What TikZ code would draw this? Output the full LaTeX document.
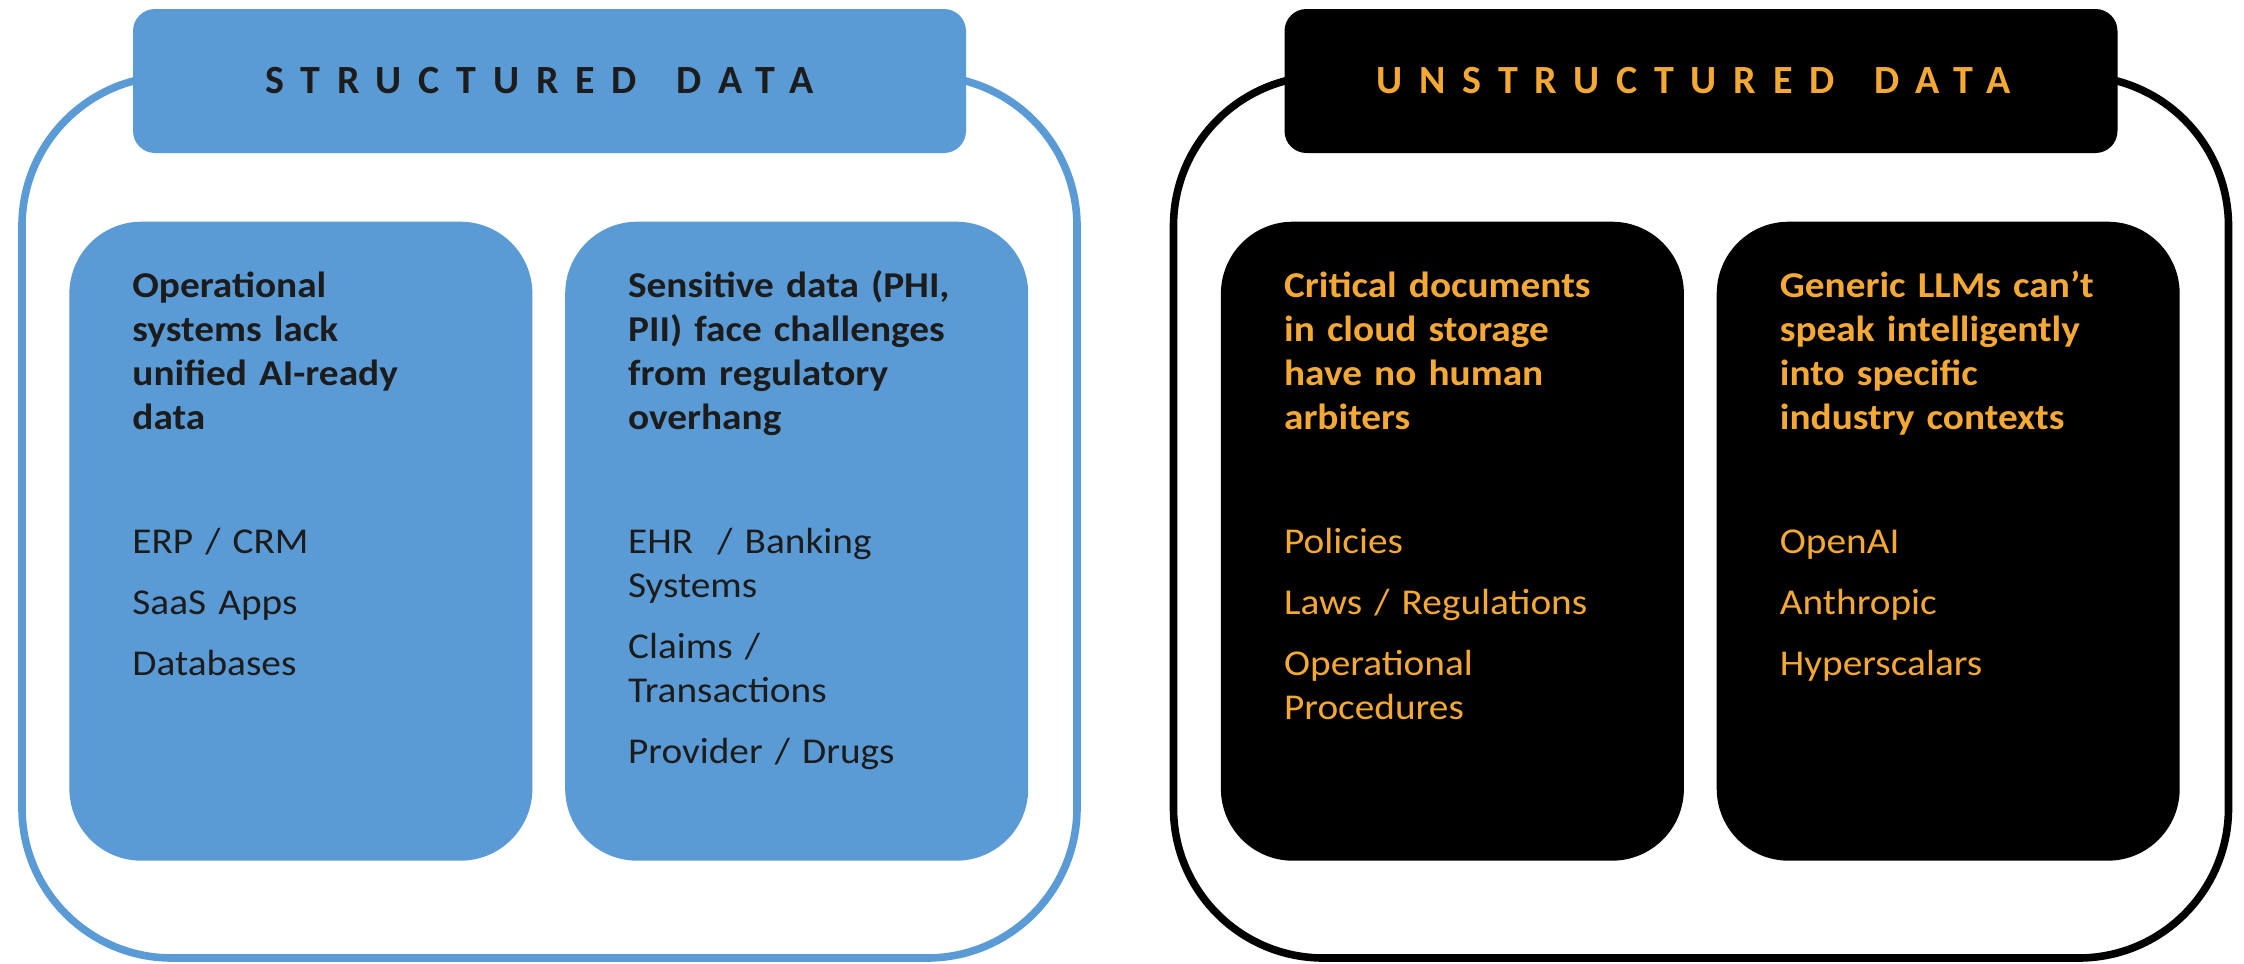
\documentclass[tikz,border=0pt]{standalone}
\usepackage{fontspec}
\setmainfont{Carlito}[FakeStretch=1.08]
\newfontfamily\hdfont{Carlito}[LetterSpace=42]
\definecolor{mblue}{HTML}{5B9BD5}
\definecolor{morange}{HTML}{F5A935}
\definecolor{mdark}{HTML}{1C1C1C}
\newcommand{\wgap}{\ \hspace{7pt}}
\begin{document}
\begin{tikzpicture}[x=0.5pt,y=-0.5pt,
  outerbox/.style={line width=3.8pt, fill=white, rounded corners=75pt, inner sep=0, minimum width=527.5pt, minimum height=441pt},
  hdrbox/.style={rounded corners=11pt, inner sep=0, minimum width=416.5pt, minimum height=72pt},
  cardbox/.style={rounded corners=36pt, inner sep=0, minimum width=231.5pt, minimum height=319.5pt},
  hdrtext/.style={anchor=base, inner sep=0, font=\hdfont\bfseries\fontsize{20pt}{22pt}\selectfont},
  ttl/.style={anchor=base west, inner sep=0, text width=220pt, align=left, font=\bfseries\fontsize{18.2pt}{22pt}\selectfont},
  body/.style={anchor=base west, inner sep=0, text width=220pt, align=left, font=\fontsize{18.2pt}{22pt}\selectfont}
]
\useasboundingbox (0,0) rectangle (2244,964);
% left group
\node[outerbox, draw=mblue] (lo) at (549.5,517) {};
\node[hdrbox, fill=mblue] (lh) at (549.5,81) {};
\node[hdrtext, text=mdark] (lht) at (539.5,93) {STRUCTURED\wgap{}DATA};
\node[cardbox, fill=mblue] (c1) at (300.9,541.2) {};
\node[cardbox, fill=mblue] (c2) at (796.7,541.2) {};
\node[ttl, text=mdark] (t1) at (132,297) {Operational\\systems lack\\unified AI-ready\\data};
\node[body, text=mdark] (b1) at (132,553) {ERP / CRM\\[8.5pt]SaaS Apps\\[8.5pt]Databases};
\node[ttl, text=mdark] (t2) at (627.7,297) {Sensitive data (PHI,\\PII) face challenges\\from regulatory\\overhang};
\node[body, text=mdark] (b2) at (627.7,553) {EHR~ / Banking\\Systems\\[8.5pt]Claims /\\Transactions\\[8.5pt]Provider / Drugs};
% right group
\node[outerbox, draw=black] (ro) at (1701,517) {};
\node[hdrbox, fill=black] (rh) at (1701,81) {};
\node[hdrtext, text=morange] (rht) at (1694,93) {UNSTRUCTURED\wgap{}DATA};
\node[cardbox, fill=black] (c3) at (1452.4,541.2) {};
\node[cardbox, fill=black] (c4) at (1948.2,541.2) {};
\node[ttl, text=morange] (t3) at (1283.7,297) {Critical documents\\in cloud storage\\have no human\\arbiters};
\node[body, text=morange] (b3) at (1283.7,553) {Policies\\[8.5pt]Laws / Regulations\\[8.5pt]Operational\\Procedures};
\node[ttl, text=morange] (t4) at (1779.5,297) {Generic LLMs can’t\\speak intelligently\\into specific\\industry contexts};
\node[body, text=morange] (b4) at (1779.5,553) {OpenAI\\[8.5pt]Anthropic\\[8.5pt]Hyperscalars};
\end{tikzpicture}
\end{document}
